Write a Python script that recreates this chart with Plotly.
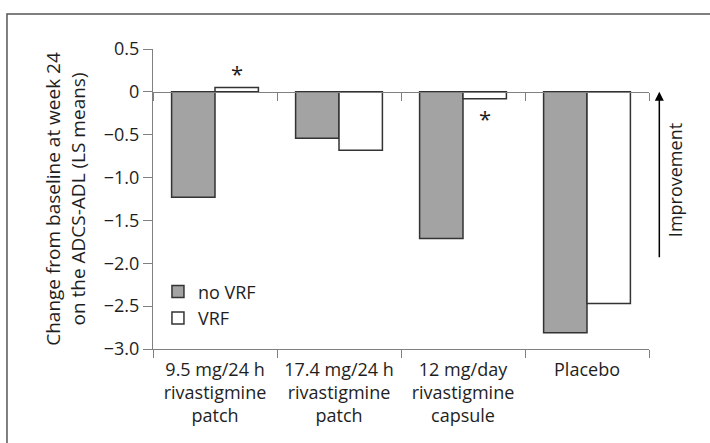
import plotly.graph_objects as go

categories = ["9.5 mg/24 h<br>rivastigmine<br>patch",
              "17.4 mg/24 h<br>rivastigmine<br>patch",
              "12 mg/day<br>rivastigmine<br>capsule",
              "Placebo"]
no_vrf = [-1.23, -0.54, -1.71, -2.81]
vrf = [0.05, -0.68, -0.08, -2.47]
significant_vrf = [True, False, True, False]
y_tickvals = [0.5, 0, -0.5, -1.0, -1.5, -2.0, -2.5, -3.0]
y_ticktext = ["0.5", "0", "\u22120.5", "\u22121.0", "\u22121.5", "\u22122.0", "\u22122.5", "\u22123.0"]

FONT = "Open Sans"
FS = 18
AX = "#808080"
TXT = "#1e1e1e"

fig = go.Figure()
fig.add_trace(go.Bar(x=categories, y=no_vrf, name="no VRF",
                     marker=dict(color="#a3a3a3", line=dict(color="#333333", width=1.5))))
fig.add_trace(go.Bar(x=categories, y=vrf, name="VRF",
                     marker=dict(color="white", line=dict(color="#333333", width=1.5))))
# invisible helper trace for the zero-line axis
fig.add_trace(go.Scatter(x=categories, y=[None]*len(categories), xaxis="x2",
                         showlegend=False, hoverinfo="skip", mode="markers"))

for cat, v, sig in zip(categories, vrf, significant_vrf):
    if sig:
        if v >= 0:
            fig.add_annotation(x=cat, y=v, xshift=22, yshift=-2, yanchor="bottom",
                               text="*", showarrow=False,
                               font=dict(family=FONT, size=22, color=TXT))
        else:
            fig.add_annotation(x=cat, y=v, xshift=22, yshift=-2, yanchor="top",
                               text="*", showarrow=False,
                               font=dict(family=FONT, size=22, color=TXT))

# Improvement arrow
fig.add_annotation(x=1.0208, xref="paper", y=0, yref="y",
                   ax=0, ay=167, axref="pixel", ayref="pixel",
                   text="", showarrow=True, arrowhead=2, arrowsize=1.2,
                   arrowwidth=1.5, arrowcolor="black")
fig.add_annotation(x=1.0524, xref="paper", xanchor="center", y=-1.03, yref="y",
                   yanchor="middle",
                   text="Improvement", textangle=-90, showarrow=False,
                   font=dict(family=FONT, size=FS, color=TXT))

# frame
fig.add_shape(type="rect", xref="paper", yref="paper",
              x0=-0.2944, x1=1.2, y0=-0.4, y1=1.1167,
              line=dict(color="#555555", width=1.5), layer="below")

fig.update_layout(
    width=710, height=443,
    margin=dict(l=153, r=61, t=49, b=94),
    paper_bgcolor="white", plot_bgcolor="white",
    font=dict(family=FONT, size=FS, color=TXT),
    barmode="group", bargap=0.3, bargroupgap=0,
    showlegend=True,
    legend=dict(x=0.01, xanchor="left", y=0.147, yanchor="middle",
                bgcolor="rgba(0,0,0,0)", font=dict(family=FONT, size=FS),
                tracegroupgap=0),
    xaxis=dict(showline=True, linecolor=AX, linewidth=1, automargin=False,
               ticks="outside", tickson="boundaries", ticklen=8, tickcolor=AX,
               ticklabelstandoff=4,
               showgrid=False, zeroline=False, tickfont=dict(size=FS)),
    xaxis2=dict(overlaying="x", matches="x", anchor="free", position=3/3.5,
                showline=True, linecolor=AX, linewidth=1, automargin=False,
                ticks="outside", tickson="boundaries", ticklen=8, tickcolor=AX,
                showticklabels=False, showgrid=False, zeroline=False, side="bottom"),
    yaxis=dict(range=[-3.0, 0.5], tickvals=y_tickvals, ticktext=y_ticktext,
               showline=True, linecolor=AX, linewidth=1, automargin=False,
               ticks="outside", ticklen=9, tickcolor=AX,
               showgrid=False, zeroline=False,
               title=dict(text="Change from baseline at week 24<br>on the ADCS-ADL (LS means)",
                          font=dict(size=19), standoff=13)),
)

fig.write_html("out.html", config={"displayModeBar": False},
               post_script="document.body.style.margin='0';")
